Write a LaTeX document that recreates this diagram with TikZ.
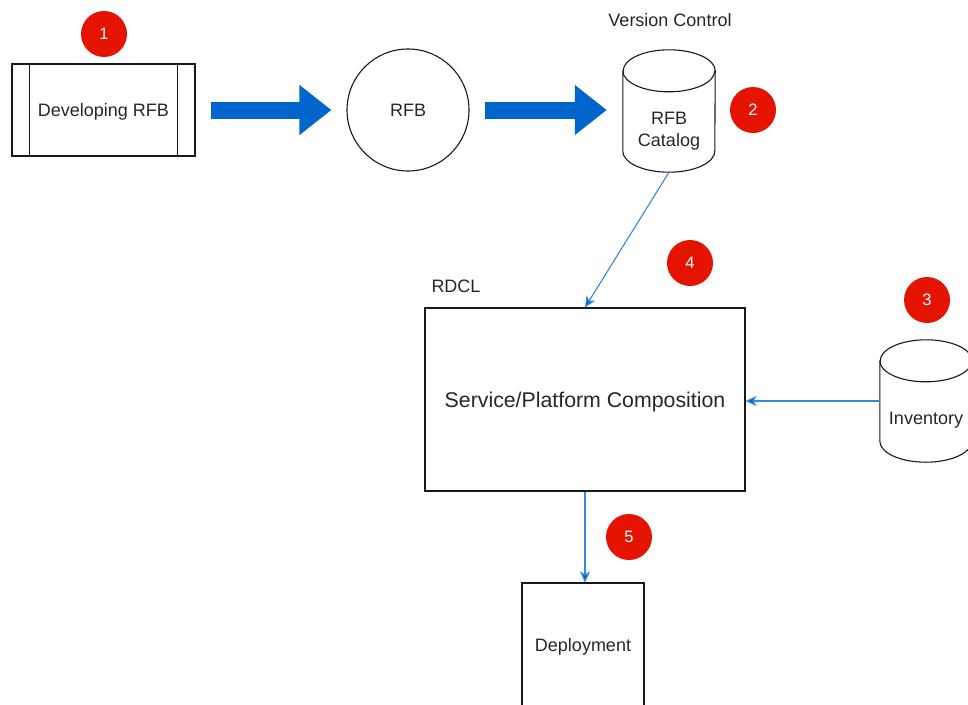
\documentclass[tikz,border=0pt]{standalone}
\usepackage{fontspec}
\setmainfont{Liberation Sans}
\usetikzlibrary{arrows.meta,calc}
\definecolor{badgered}{HTML}{E51400}
\definecolor{flowblue}{HTML}{0066CC}
\definecolor{linkblue}{HTML}{3A86DA}
\begin{document}
\begin{tikzpicture}[x=1pt,y=-1pt,
  shapeline/.style={draw=black!90, line width=1.1pt},
  badge/.style={circle, fill=badgered, minimum size=46pt, inner sep=0pt, text=white, font=\fontsize{16.5}{18}\selectfont},
  lbl/.style={font=\fontsize{18}{22}\selectfont, text=black!85, align=center, inner sep=0pt, text depth=0pt},
  link/.style={draw=linkblue, line width=1.1pt, -{Stealth[length=11pt,width=10pt,inset=3pt,fill=flowblue]}},
  bigflow/.style={draw=flowblue, line width=17pt, -{Triangle[length=32pt,width=48pt,fill=flowblue]}}]
\useasboundingbox (0,0) rectangle (968,704);

% Developing RFB (process box)
\node[shapeline, rectangle, minimum width=183pt, minimum height=92pt, lbl] (dev) at (103.5,110) {Developing RFB};
\draw[shapeline] ($(dev.north west)+(18,0)$) -- ($(dev.south west)+(18,0)$);
\draw[shapeline] ($(dev.north east)+(-18,0)$) -- ($(dev.south east)+(-18,0)$);

% RFB circle
\node[shapeline, circle, minimum size=122pt, lbl] (rfb) at (408,110) {RFB};

% RFB Catalog cylinder
\node[minimum width=92pt, minimum height=122pt, inner sep=0pt] (cat) at (669,111) {};
\draw[shapeline] ($(cat.north west)+(0,21)$) -- ($(cat.south west)+(0,-21)$)
  arc[start angle=180,end angle=360,x radius=46pt,y radius=21pt]
  -- ($(cat.north east)+(0,21)$)
  arc[start angle=0,end angle=180,x radius=46pt,y radius=21pt] -- cycle;
\draw[shapeline] ($(cat.north west)+(0,21)$) arc[start angle=180,end angle=360,x radius=46pt,y radius=21pt];
\node[lbl] (cattext) at ($(cat.center)+(0,18)$) {RFB\\Catalog};
\node[lbl] (vc) at (670,20) {Version Control};

% Big flow arrows
\coordinate (a1s) at ($(dev.east)+(15,0)$);
\coordinate (a1e) at ($(rfb.west)+(-15,0)$);
\draw[bigflow] (a1s) -- (a1e);
\coordinate (a2s) at ($(rfb.east)+(15,0)$);
\coordinate (a2e) at ($(cat.west)+(-16,-1)$);
\draw[bigflow] (a2s) -- (a2s -| a2e);

% Composition box
\node[shapeline, rectangle, minimum width=320pt, minimum height=183pt, lbl, font=\fontsize{21.3}{25}\selectfont] (comp) at (585,399.5) {Service/Platform Composition};
\node[lbl] (rdcl) at (456,286) {RDCL};

% Inventory cylinder
\node[minimum width=92pt, minimum height=122pt, inner sep=0pt] (inv) at (926,401) {};
\draw[shapeline] ($(inv.north west)+(0,21)$) -- ($(inv.south west)+(0,-21)$)
  arc[start angle=180,end angle=360,x radius=46pt,y radius=21pt]
  -- ($(inv.north east)+(0,21)$)
  arc[start angle=0,end angle=180,x radius=46pt,y radius=21pt] -- cycle;
\draw[shapeline] ($(inv.north west)+(0,21)$) arc[start angle=180,end angle=360,x radius=46pt,y radius=21pt];
\node[lbl] (invtext) at ($(inv.center)+(0,17)$) {Inventory};

% Deployment box
\node[shapeline, rectangle, minimum width=122pt, minimum height=124pt, lbl] (dep) at (583,645) {Deployment};

% Connectors
\draw[link] (cat.south) -- (comp.north);
\draw[link] (inv.west) -- (inv.west -| comp.east);
\draw[link] (comp.south) -- (comp.south |- dep.north);

% Badges
\node[badge] (b1) at (104,34) {1};
\node[badge] (b2) at (753,110) {2};
\node[badge] (b3) at (927,300) {3};
\node[badge] (b4) at (690,263) {4};
\node[badge] (b5) at (629,537) {5};
\end{tikzpicture}
\end{document}
